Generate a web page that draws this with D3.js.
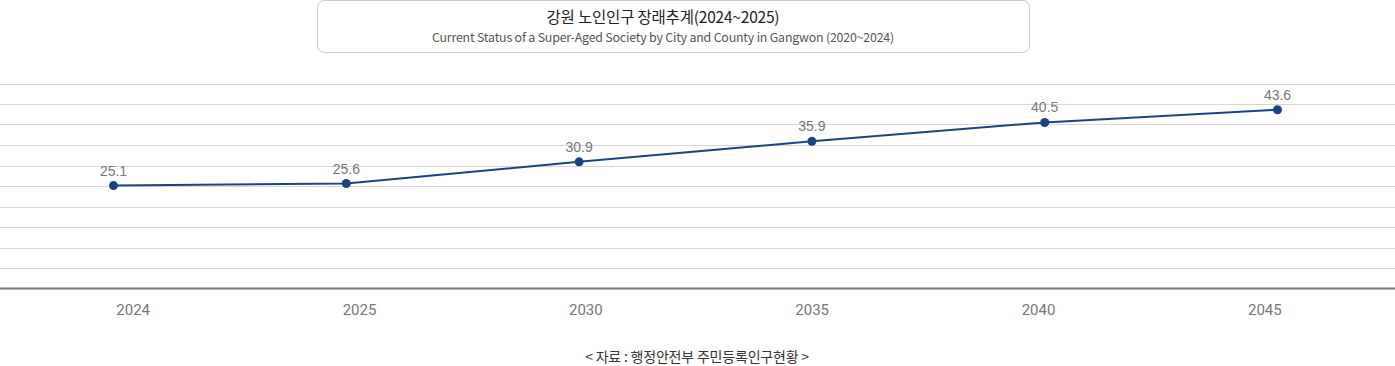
<!DOCTYPE html>
<html>
<head>
<meta charset="utf-8">
<script src="https://cdn.jsdelivr.net/npm/d3@7"></script>
<style>
    body { margin: 0; background: #fff; }
    svg { display: block; }
</style>
</head>
<body>
<svg id="chart" width="1395" height="366"></svg>
<script>
const years = ["2024", "2025", "2030", "2035", "2040", "2045"]
const elderlyRate = [25.1, 25.6, 30.9, 35.9, 40.5, 43.6]
const yTicks = [0, 5, 10, 15, 20, 25, 30, 35, 40, 45, 50]

const titleText = "강원 노인인구 장래추계(2024~2025)"
const subtitleText = "Current Status of a Super-Aged Society by City and County in Gangwon (2020~2024)"
const sourceText = "< 자료 : 행정안전부 주민등록인구현황 >"

const W = 1395, H = 366
const krFont = "'Noto Sans CJK KR', 'Noto Sans', sans-serif"
const numFont = "Roboto, 'Liberation Sans', sans-serif"

let svg = d3.select("#chart")

// title box
svg.append("rect")
    .attr("x", 317.5).attr("y", 0.5)
    .attr("width", 712).attr("height", 52)
    .attr("rx", 7)
    .attr("fill", "#fff")
    .attr("stroke", "#c8c8c8")

svg.append("text")
    .attr("x", 663).attr("y", 23)
    .attr("text-anchor", "middle")
    .attr("font-family", krFont)
    .attr("font-size", 15.5)
    .attr("letter-spacing", -0.2)
    .attr("fill", "#222")
    .text(titleText)

svg.append("text")
    .attr("x", 663).attr("y", 42)
    .attr("text-anchor", "middle")
    .attr("font-family", krFont)
    .attr("font-size", 12.4)
    .attr("letter-spacing", -0.2)
    .attr("fill", "#555")
    .text(subtitleText)

const y = d3.scaleLinear().domain([0, 50]).range([288.5, 83.5])
const x = d3.scalePoint().domain(years).range([113.5, 1277.5])
// category labels sit on a slightly narrower band
const xLab = d3.scaleBand().domain(years).range([20, 1378])

// grid
svg.append("g")
    .selectAll("line")
    .data(yTicks.filter(d => d > 0))
    .join("line")
    .attr("x1", 0).attr("x2", W)
    .attr("y1", d => Math.round(y(d)) + 0.5)
    .attr("y2", d => Math.round(y(d)) + 0.5)
    .attr("stroke", "#d6d6d6")
    .attr("stroke-width", 1)

// base axis line
svg.append("line")
    .attr("x1", 0).attr("x2", W)
    .attr("y1", y(0)).attr("y2", y(0))
    .attr("stroke", "#777")
    .attr("stroke-width", 2)

// x labels
let xAxis = d3.axisBottom(xLab).tickSize(0).tickPadding(0)
let gx = svg.append("g")
    .attr("transform", `translate(0, ${y(0)})`)
    .call(xAxis)
gx.select(".domain").remove()
gx.selectAll("text")
    .attr("y", 16)
    .attr("font-family", numFont)
    .attr("font-weight", 400)
    .attr("font-size", 15)
    .attr("fill", "#777")

const data = years.map((d, i) => ({year: d, value: elderlyRate[i]}))

const line = d3.line()
    .x(d => x(d.year))
    .y(d => y(d.value))

svg.append("path")
    .datum(data)
    .attr("d", line)
    .attr("fill", "none")
    .attr("stroke", "#1c4480")
    .attr("stroke-width", 2)

svg.append("g")
    .selectAll("circle")
    .data(data)
    .join("circle")
    .attr("cx", d => x(d.year))
    .attr("cy", d => y(d.value))
    .attr("r", 4.5)
    .attr("fill", "#1c4480")

svg.append("g")
    .selectAll("text")
    .data(data)
    .join("text")
    .attr("x", d => x(d.year))
    .attr("y", d => y(d.value) - 10)
    .attr("text-anchor", "middle")
    .attr("font-family", "'Liberation Sans', Arial, sans-serif")
    .attr("font-size", 14)
    .attr("fill", "#777")
    .text(d => d.value)

svg.append("text")
    .attr("x", 697).attr("y", 362)
    .attr("text-anchor", "middle")
    .attr("font-family", krFont)
    .attr("font-size", 14)
    .attr("letter-spacing", -0.2)
    .attr("fill", "#333")
    .text(sourceText)
</script>
</body>
</html>
